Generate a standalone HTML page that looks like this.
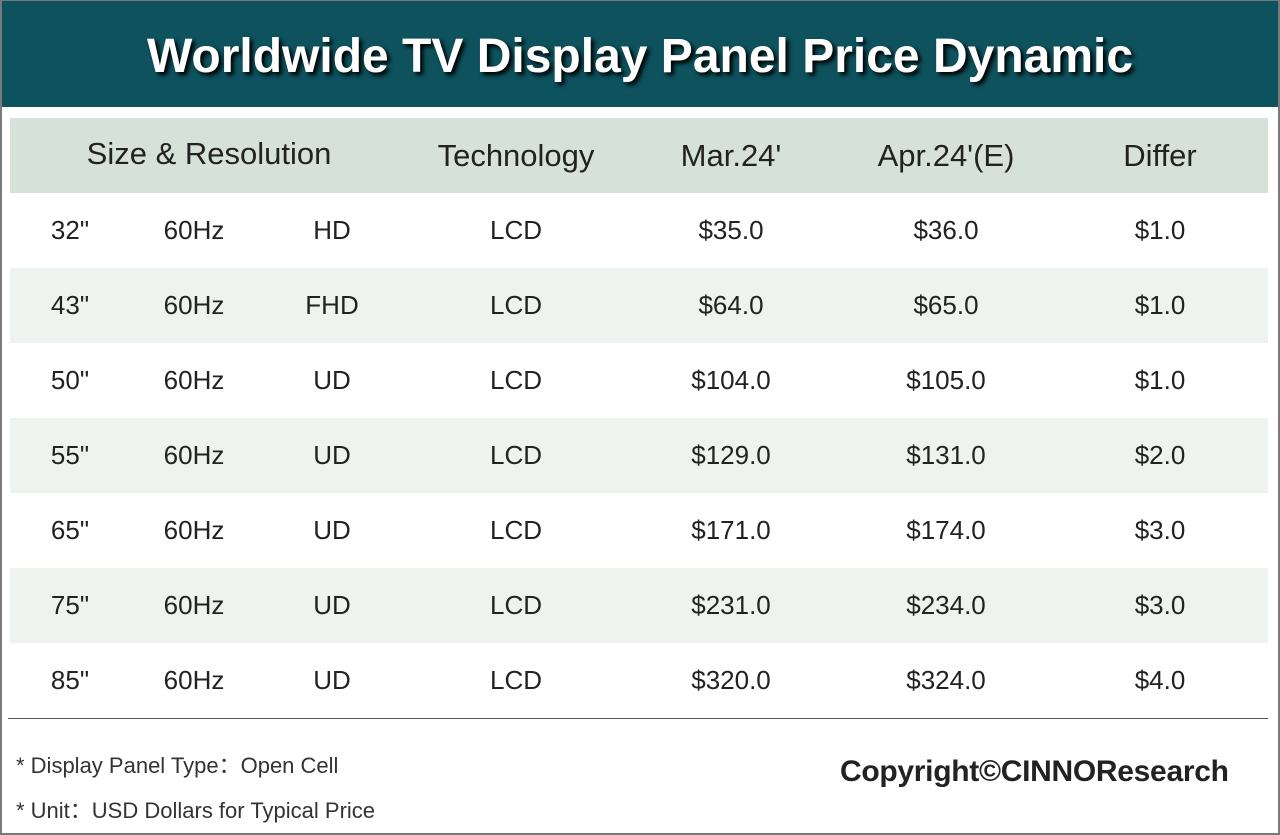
<!DOCTYPE html>
<html><head><style>
*{margin:0;padding:0;box-sizing:border-box}
body{width:1280px;height:835px;background:#fff;font-family:"Liberation Sans",sans-serif;position:relative;overflow:hidden}
.frame{position:absolute;left:0;top:0;width:1280px;height:835px;border:2px solid #7a7a7a;border-top:1px solid #7a7a7a}
.title{position:absolute;left:2px;top:1px;width:1276px;height:106px;background:#0e525e;color:#fff;font-weight:bold;font-size:48px;text-align:center;line-height:112px;text-shadow:3px 3px 4px #000}
.hdr{position:absolute;left:10px;top:118px;width:1258px;height:75px;background:#d6e1d9}
.row{position:absolute;left:10px;width:1258px;height:75px}
.alt{background:#eef3ef}
.t{position:absolute;transform:translateX(-50%);white-space:nowrap;color:#222;font-size:26px}
.h{font-size:31px;color:#222}
.line{position:absolute;left:8px;top:718px;width:1260px;height:1px;background:#555}
.note{position:absolute;left:16px;font-size:22px;color:#333}
.copy{position:absolute;left:840px;top:755px;font-size:30px;font-weight:bold;color:#222;letter-spacing:-0.3px}
</style></head><body>
<div class="title">Worldwide TV Display Panel Price Dynamic</div>
<div class="hdr"></div>
<div class="t h" style="left:209px;top:136px">Size &amp; Resolution</div>
<div class="t h" style="left:516px;top:138px">Technology</div>
<div class="t h" style="left:731px;top:138px">Mar.24'</div>
<div class="t h" style="left:946px;top:138px">Apr.24'(E)</div>
<div class="t h" style="left:1160px;top:138px">Differ</div>
<div class="row" style="top:193px"></div>
<div class="row alt" style="top:268px"></div>
<div class="row" style="top:343px"></div>
<div class="row alt" style="top:418px"></div>
<div class="row" style="top:493px"></div>
<div class="row alt" style="top:568px"></div>
<div class="row" style="top:643px"></div>
<div id="rows"></div>
<script>
var d=[["32\"","HD","$35.0","$36.0","$1.0"],["43\"","FHD","$64.0","$65.0","$1.0"],["50\"","UD","$104.0","$105.0","$1.0"],["55\"","UD","$129.0","$131.0","$2.0"],["65\"","UD","$171.0","$174.0","$3.0"],["75\"","UD","$231.0","$234.0","$3.0"],["85\"","UD","$320.0","$324.0","$4.0"]];
var h="";
d.forEach(function(r,i){var y=215+i*75;
var c=[[70,r[0]],[194,"60Hz"],[332,r[1]],[516,"LCD"],[731,r[2]],[946,r[3]],[1160,r[4]]];
c.forEach(function(x){h+='<div class="t" style="left:'+x[0]+'px;top:'+y+'px">'+x[1]+'</div>';});});
document.getElementById("rows").innerHTML=h;
</script>
<div class="line"></div>
<div class="note" style="top:748px">* Display Panel Type：Open Cell</div>
<div class="note" style="top:793px">* Unit：USD Dollars for Typical Price</div>
<div class="copy">Copyright©CINNOResearch</div>
<div class="frame"></div>
</body></html>
